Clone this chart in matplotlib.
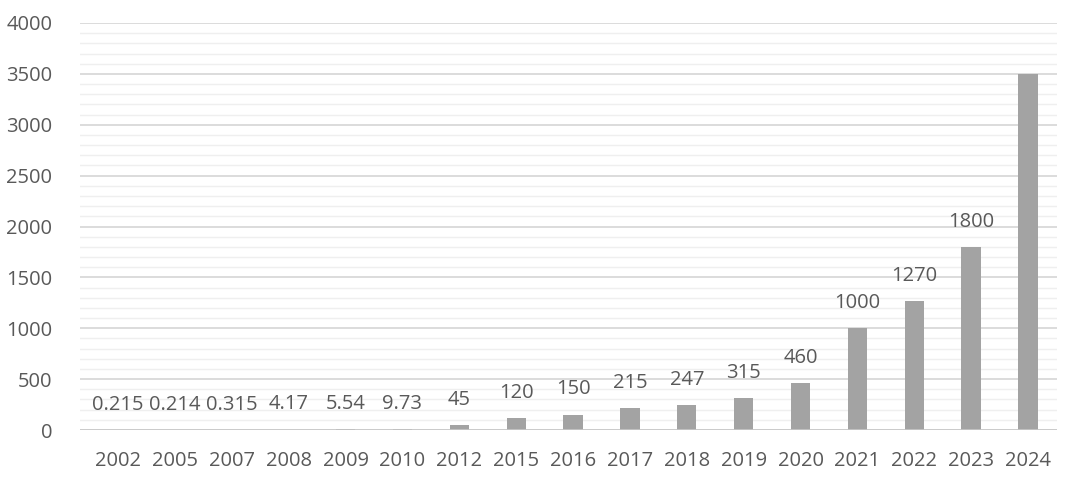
import matplotlib
matplotlib.use("Agg")
from matplotlib import pyplot as plt
from matplotlib.ticker import MultipleLocator

years = ["2002", "2005", "2007", "2008", "2009", "2010", "2012", "2015", "2016",
         "2017", "2018", "2019", "2020", "2021", "2022", "2023", "2024"]
values = [0.215, 0.214, 0.315, 4.17, 5.54, 9.73, 45, 120, 150,
          215, 247, 315, 460, 1000, 1270, 1800, 3500]
labels = ["0.215", "0.214", "0.315", "4.17", "5.54", "9.73", "45", "120", "150",
          "215", "247", "315", "460", "1000", "1270", "1800", ""]

text_color = "#595959"
plt.rcParams["font.family"] = ["Open Sans", "DejaVu Sans"]

fig = plt.figure(figsize=(10.8, 4.83), dpi=100)
ax = fig.add_axes([0.0741, 0.1097, 0.9046, 0.8427])

x = range(len(years))
bars = ax.bar(x, values, width=0.34, color="#a3a3a3", zorder=3)

for bar, lab in zip(bars, labels):
    if not lab:
        continue
    ax.annotate(lab, (bar.get_x() + bar.get_width() / 2, bar.get_height()),
                xytext=(0, 11), textcoords="offset points",
                ha="center", va="bottom", fontsize=14.5, color=text_color)

ax.set_xlim(-0.67, 16.51)
ax.set_ylim(0, 4000)
ax.yaxis.set_major_locator(MultipleLocator(500))
ax.yaxis.set_minor_locator(MultipleLocator(100))
ax.grid(axis="y", which="major", color="#d6d6d6", linewidth=1.2, zorder=0)
ax.grid(axis="y", which="minor", color="#efefef", linewidth=1.0, zorder=0)
ax.axhline(0, color="#c8c8c8", linewidth=1.2, zorder=4)

ax.set_xticks(list(x))
ax.set_xticklabels(years)
ax.tick_params(axis="both", which="both", length=0, labelsize=14.5, labelcolor=text_color)
ax.tick_params(axis="x", pad=15)
ax.tick_params(axis="y", pad=20)

for s in ax.spines.values():
    s.set_visible(False)

fig.savefig("out.png", dpi=100)
